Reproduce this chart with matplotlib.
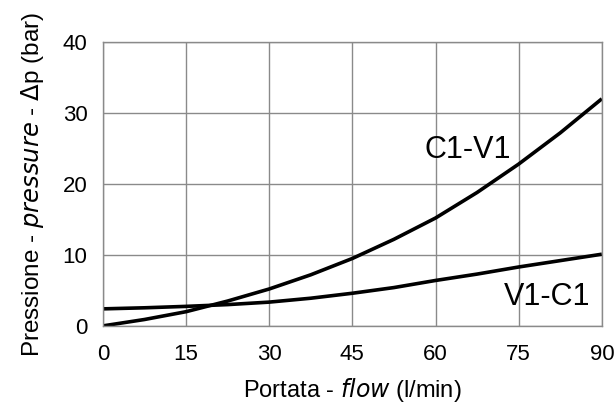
import matplotlib
matplotlib.use("Agg")
import matplotlib.pyplot as plt

# flow (l/min) and pressure drop (bar)
flow = [0, 7.5, 15, 22.5, 30, 37.5, 45, 52.5, 60, 67.5, 75, 82.5, 90]
c1_v1 = [0.0, 0.9, 2.0, 3.5, 5.2, 7.2, 9.5, 12.2, 15.2, 18.8, 22.8, 27.2, 32.0]
v1_c1 = [2.4, 2.55, 2.75, 3.0, 3.35, 3.9, 4.6, 5.4, 6.4, 7.3, 8.3, 9.2, 10.1]

x_ticks = [0, 15, 30, 45, 60, 75, 90]
y_ticks = [0, 10, 20, 30, 40]

plt.rcParams["font.family"] = ["Liberation Sans", "DejaVu Sans"]

fig = plt.figure(figsize=(6.16, 4.12), dpi=100)
ax = fig.add_axes([0.167, 0.209, 0.81, 0.689])

ax.plot(flow, c1_v1, color="black", lw=2.6, solid_capstyle="butt")
ax.plot(flow, v1_c1, color="black", lw=2.6, solid_capstyle="butt")

ax.set_xlim(0, 90)
ax.set_ylim(0, 40)
ax.set_xticks(x_ticks)
ax.set_yticks(y_ticks)
ax.grid(True, color="#8a8a8a", lw=1.0)
ax.set_axisbelow(True)
for s in ax.spines.values():
    s.set_color("#8a8a8a")
    s.set_linewidth(1.0)
ax.tick_params(axis="x", length=0, labelsize=16, pad=13)
ax.tick_params(axis="y", length=0, labelsize=16, pad=11)

ax.text(65.8, 24.8, "C1-V1", fontsize=22, ha="center", va="center")
ax.text(80.1, 4.1, "V1-C1", fontsize=22, ha="center", va="center")

ax.set_xlabel("Portata - $\\it{flow}$ (l/min)", fontsize=17, labelpad=8)
ax.set_ylabel("Pressione - $\\it{pressure}$ - $\\Delta$p (bar)", fontsize=17.5, labelpad=12)

fig.savefig("out.png", dpi=100)
